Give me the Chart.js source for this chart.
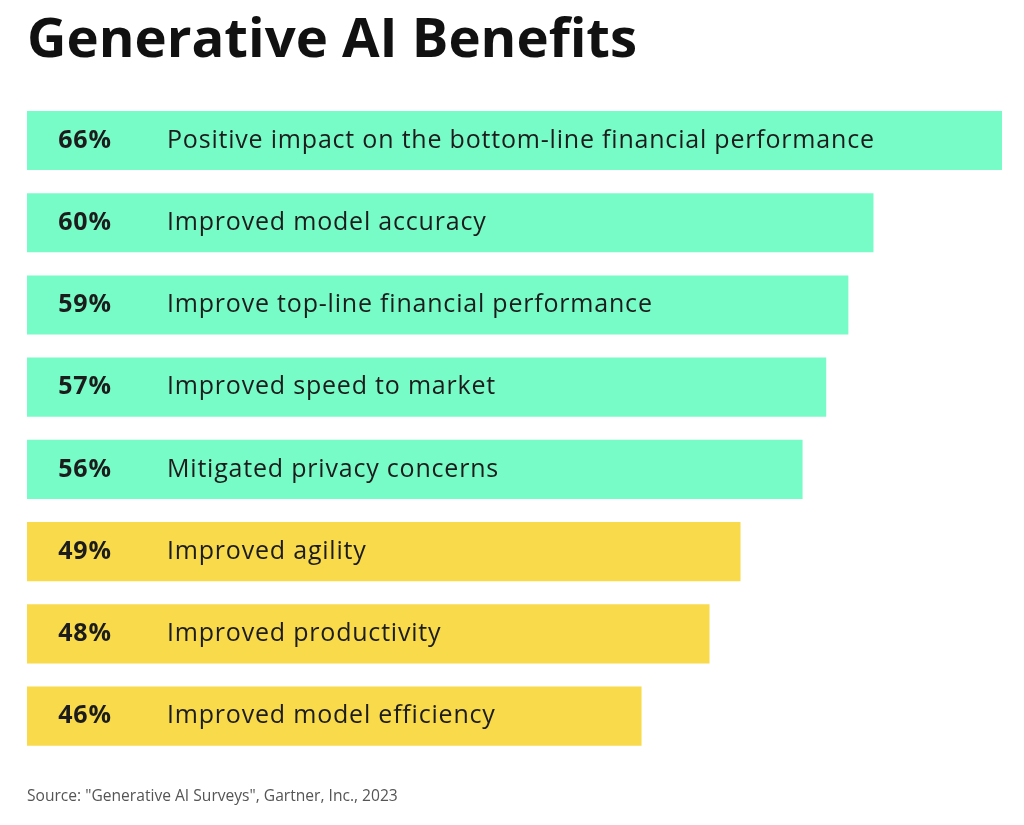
<!DOCTYPE html>
<html>
<head>
<meta charset="utf-8">
<script src="https://cdn.jsdelivr.net/npm/chart.js@4/dist/chart.umd.min.js"></script>
<style>
  html, body { margin: 0; padding: 0; background: #ffffff; }
  #wrap { position: relative; width: 1024px; height: 825px; }
</style>
</head>
<body>
<div id="wrap"><canvas id="chart-benefits"></canvas></div>
<script>
// ===== Generative AI Benefits - horizontal bar chart =====

const benefits = [
  'Positive impact on the bottom-line financial performance',
  'Improved model accuracy',
  'Improve top-line financial performance',
  'Improved speed to market',
  'Mitigated privacy concerns',
  'Improved agility',
  'Improved productivity',
  'Improved model efficiency'
];

// share of respondents, as printed on each bar
const shares = [66, 60, 59, 57, 56, 49, 48, 46];

// bar length as drawn in the infographic (not proportional to the share),
// read off the picture in the same units, with the longest bar = 66
const barLengths = [66, 57.3, 55.6, 54.1, 52.5, 48.3, 46.2, 41.6];

const groups = ['green', 'green', 'green', 'green', 'green', 'yellow', 'yellow', 'yellow'];

const colorMap = {
  green: '#78fcc7',
  yellow: '#f8da4b'
};

const fontFamily = '"Open Sans", "DejaVu Sans", sans-serif';

// text drawn on top of each bar: bold share, then the benefit
const barTextPlugin = {
  id: 'barText',
  afterDatasetsDraw(chart) {
    const { ctx, chartArea } = chart;
    const meta = chart.getDatasetMeta(0);
    ctx.save();
    ctx.textBaseline = 'middle';
    ctx.fillStyle = '#1c1c1c';
    ctx.letterSpacing = '0.8px';
    meta.data.forEach((bar, i) => {
      ctx.textAlign = 'center';
      ctx.font = 'bold 25px ' + fontFamily;
      ctx.fillText(shares[i] + '%', chartArea.left + 58, bar.y);

      ctx.textAlign = 'left';
      ctx.font = '25px ' + fontFamily;
      ctx.fillText(benefits[i], chartArea.left + 140, bar.y);
    });
    ctx.restore();
  }
};

const canvas = document.getElementById('chart-benefits');

new Chart(canvas, {
  type: 'bar',
  data: {
    labels: benefits,
    datasets: [{
      label: 'Share of respondents',
      data: barLengths,
      backgroundColor: groups.map(g => colorMap[g]),
      borderWidth: 0,
      borderSkipped: false,
      categoryPercentage: 1,
      barPercentage: 0.72
    }]
  },
  options: {
    indexAxis: 'y',
    responsive: true,
    maintainAspectRatio: false,
    animation: false,
    layout: {
      padding: { left: 27, right: 22, top: 0, bottom: 0 }
    },
    scales: {
      x: { display: false, min: 0, max: 66 },
      y: { display: false }
    },
    plugins: {
      legend: { display: false },
      tooltip: { enabled: false },
      title: {
        display: true,
        text: 'Generative AI Benefits',
        align: 'start',
        color: '#111111',
        font: { family: fontFamily, size: 54.5, weight: 'bold' },
        padding: { top: 9, bottom: 25 }
      },
      subtitle: {
        display: true,
        position: 'bottom',
        text: 'Source: "Generative AI Surveys", Gartner, Inc., 2023',
        align: 'start',
        color: '#555555',
        font: { family: fontFamily, size: 15.6 },
        padding: { top: 30, bottom: 19 }
      }
    }
  },
  plugins: [barTextPlugin]
});
</script>
</body>
</html>
